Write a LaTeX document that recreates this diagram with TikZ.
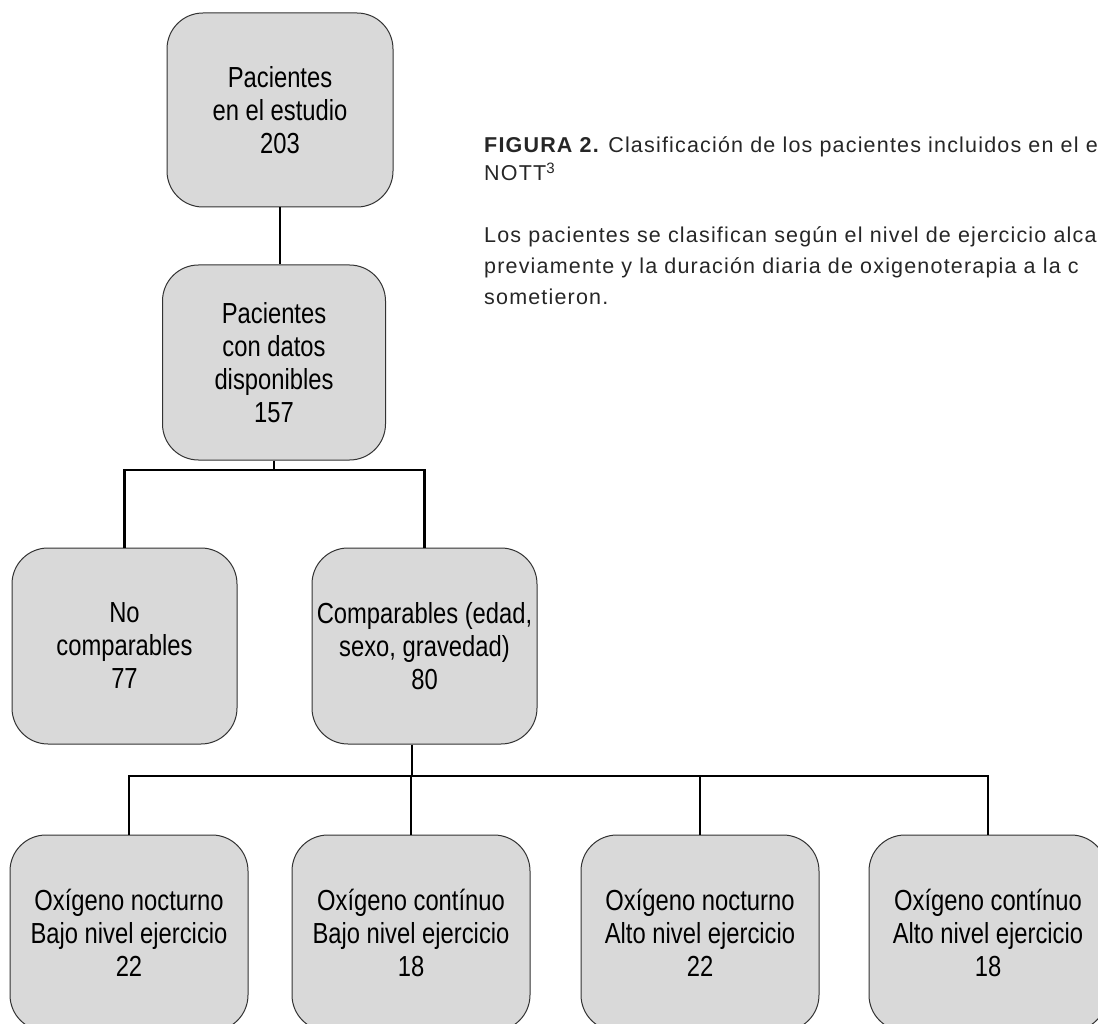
\documentclass[tikz,border=0pt]{standalone}
\usepackage{fontspec}
\setmainfont{Liberation Sans}
\newfontfamily\boxfont[FakeStretch=0.82]{Liberation Sans}
\newfontfamily\capfont[LetterSpace=5.5]{Liberation Sans}
\definecolor{boxgray}{RGB}{217,217,217}
\begin{document}
\begin{tikzpicture}[x=1pt,y=-1pt,
  box/.style={draw=black!80, line width=1pt, fill=boxgray, rounded corners=36pt,
    align=center, inner sep=0pt, font=\boxfont\fontsize{29}{33}\selectfont},
  link/.style={line width=2.5pt, black},
  captext/.style={anchor=base west, align=left, inner sep=0pt, text=black!85}]
\useasboundingbox (0,0) rectangle (1098,1024);
\clip (0,0) rectangle (1098,1024);
\fill[white] (0,0) rectangle (1098,1024);

\node[box, minimum width=226pt, minimum height=194pt] (n1) at (280,110) {Pacientes\\en el estudio\\203};
\node[box, minimum width=223pt, minimum height=195pt] (n2) at (274,362.5) {Pacientes\\con datos\\disponibles\\157};
\node[box, minimum width=225pt, minimum height=196pt] (n3) at (124.5,646) {No\\comparables\\77};
\node[box, minimum width=225pt, minimum height=196pt] (n4) at (424.5,646) {Comparables (edad,\\sexo, gravedad)\\80};
\node[box, minimum width=238pt, minimum height=196pt] (n5) at (129,933) {Oxígeno nocturno\\Bajo nivel ejercicio\\22};
\node[box, minimum width=238pt, minimum height=196pt] (n6) at (411,933) {Oxígeno contínuo\\Bajo nivel ejercicio\\18};
\node[box, minimum width=238pt, minimum height=196pt] (n7) at (700,933) {Oxígeno nocturno\\Alto nivel ejercicio\\22};
\node[box, minimum width=238pt, minimum height=196pt] (n8) at (988,933) {Oxígeno contínuo\\Alto nivel ejercicio\\18};

\coordinate (b1) at (274,470);
\coordinate (b2) at (412,776);

\draw[link] (n1.south) -- (n1.south |- n2.north);
\draw[link] (n2.south) -- (n2.south |- b1);
\draw[link] (n3.north) -- (n3.north |- b1) -- (n4.north |- b1) -- (n4.north);
\draw[link] (n4.south -| b2) -- (b2);
\draw[link] (n5.north) -- (n5.north |- b2) -- (n8.north |- b2) -- (n8.north);
\draw[link] (n6.north |- b2) -- (n6.north);
\draw[link] (n7.north |- b2) -- (n7.north);

\node[captext, font=\capfont\fontsize{21.5}{28}\selectfont] (cap) at (484,181)
  {{\bfseries FIGURA 2.} Clasificación de los pacientes incluidos en el e\\NOTT\textsuperscript{3}};
\node[captext, font=\capfont\fontsize{21.5}{31}\selectfont] (para) at (484,305)
  {Los pacientes se clasifican según el nivel de ejercicio alca\\previamente y la duración diaria de oxigenoterapia a la c\\sometieron.};
\end{tikzpicture}
\end{document}
